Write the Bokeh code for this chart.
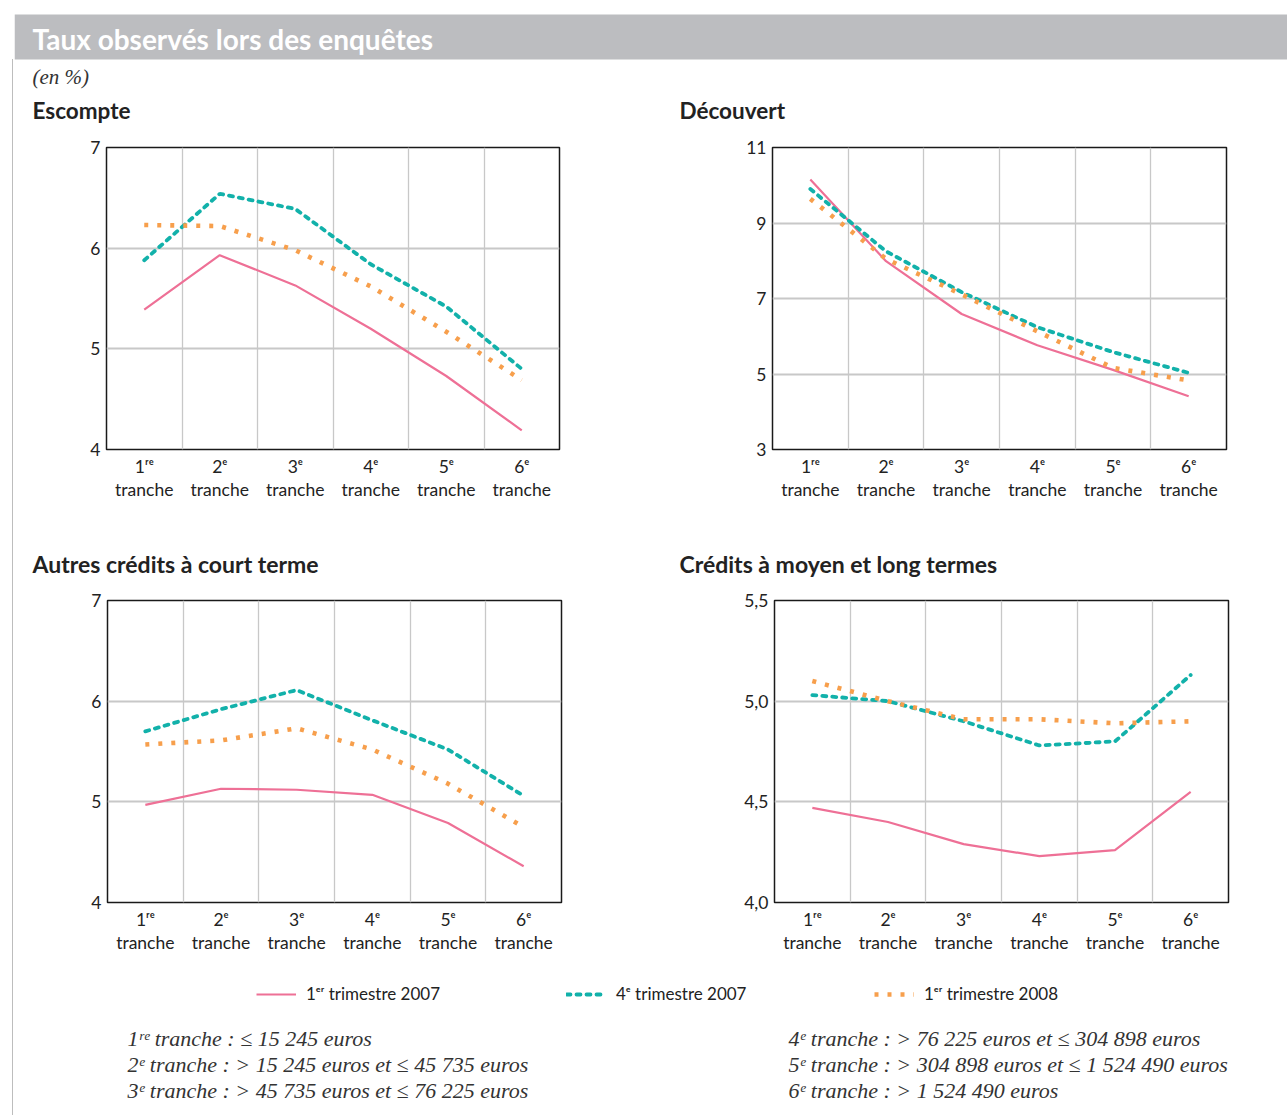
from bokeh.plotting import figure
from bokeh.models import Range1d, FixedTicker, Legend, LegendItem, Div
from bokeh.layouts import column, row
from bokeh.core.properties import value
from bokeh.embed import file_html
from bokeh.resources import INLINE

# ---------------- data ----------------
categories = ["1ʳᵉ\ntranche", "2ᵉ\ntranche", "3ᵉ\ntranche",
              "4ᵉ\ntranche", "5ᵉ\ntranche", "6ᵉ\ntranche"]
series_names = ["1ᵉʳ trimestre 2007", "4ᵉ trimestre 2007", "1ᵉʳ trimestre 2008"]

escompte_t1_2007 = [5.39, 5.93, 5.63, 5.20, 4.73, 4.19]
escompte_t4_2007 = [5.88, 6.54, 6.39, 5.84, 5.42, 4.80]
escompte_t1_2008 = [6.23, 6.22, 5.98, 5.62, 5.17, 4.69]

decouvert_t1_2007 = [10.15, 7.99, 6.59, 5.76, 5.11, 4.41]
decouvert_t4_2007 = [9.90, 8.25, 7.17, 6.24, 5.58, 5.03]
decouvert_t1_2008 = [9.64, 8.05, 7.11, 6.13, 5.16, 4.83]

autres_t1_2007 = [4.97, 5.13, 5.12, 5.07, 4.79, 4.36]
autres_t4_2007 = [5.70, 5.92, 6.11, 5.81, 5.52, 5.06]
autres_t1_2008 = [5.57, 5.61, 5.73, 5.52, 5.18, 4.75]

mlt_t1_2007 = [4.47, 4.40, 4.29, 4.23, 4.26, 4.55]
mlt_t4_2007 = [5.03, 5.00, 4.90, 4.78, 4.80, 5.13]
mlt_t1_2008 = [5.10, 5.00, 4.91, 4.91, 4.89, 4.90]

escompte_yticks = [4, 5, 6, 7]
escompte_ylabels = ["4", "5", "6", "7"]
decouvert_yticks = [3, 5, 7, 9, 11]
decouvert_ylabels = ["3", "5", "7", "9", "11"]
autres_yticks = [4, 5, 6, 7]
autres_ylabels = ["4", "5", "6", "7"]
mlt_yticks = [4.0, 4.5, 5.0, 5.5]
mlt_ylabels = ["4,0", "4,5", "5,0", "5,5"]

main_title = "Taux observés lors des enquêtes"
unit_note = "(en %)"
panel_titles = ["Escompte", "Découvert", "Autres crédits à court terme",
                "Crédits à moyen et long termes"]
notes_left = ["1ʳᵉ tranche : ≤ 15 245 euros",
              "2ᵉ tranche :  >  15 245 euros et ≤ 45 735 euros",
              "3ᵉ tranche :  >  45 735 euros et ≤ 76 225 euros"]
notes_right = ["4ᵉ tranche :  >  76 225 euros et ≤ 304 898 euros",
               "5ᵉ tranche :  >  304 898 euros et ≤ 1 524 490 euros",
               "6ᵉ tranche :  >  1 524 490 euros"]

# ---------------- styles ----------------
COLORS = ["#ee7096", "#12b1aa", "#f79f4c"]
WIDTHS = [2.2, 3.8, 4.6]
DASHES = ["solid", "4 6", "4 9"]
CAPS = ["butt", "round", "butt"]
SANS = "Lato"
SERIF = "Liberation Serif"
GRID = "#c8c8c8"
LEFT = 14
TOTAL_W = 1287 - LEFT


def canvas(w, h):
    p = figure(width=w, height=h, x_range=Range1d(0, w), y_range=Range1d(h, 0),
               x_axis_type=None, y_axis_type=None, min_border=0,
               toolbar_location=None, output_backend="svg")
    p.outline_line_color = None
    p.background_fill_color = "white"
    p.border_fill_color = "white"
    p.grid.visible = False
    return p


def panel(ys, yr, yticks, ylabels, w, h, bl, br, bt, bb):
    p = figure(width=w, height=h, x_range=Range1d(0, 6), y_range=Range1d(*yr),
               min_border_left=bl, min_border_right=br, min_border_top=bt,
               min_border_bottom=bb, toolbar_location=None, output_backend="svg")
    p.background_fill_color = "white"
    p.border_fill_color = "white"
    p.outline_line_color = "#1a1a1a"
    p.outline_line_width = 1.5
    x_pos = [i + 0.5 for i in range(len(categories))]
    for vals, col, lw, dash, cap in zip(ys, COLORS, WIDTHS, DASHES, CAPS):
        p.line(x_pos, vals, line_color=col, line_width=lw, line_dash=dash,
               line_cap=cap)

    p.xaxis.ticker = FixedTicker(ticks=x_pos)
    p.xaxis.major_label_overrides = {x: c for x, c in zip(x_pos, categories)}
    p.yaxis.ticker = FixedTicker(ticks=yticks)
    p.yaxis.major_label_overrides = {t: l for t, l in zip(yticks, ylabels)}
    for ax in (p.xaxis, p.yaxis):
        ax.axis_line_color = None
        ax.major_tick_line_color = None
        ax.minor_tick_line_color = None
        ax.major_label_text_font = SANS
        ax.major_label_text_font_size = "17.5px"
        ax.major_label_text_color = "#222222"
    p.xaxis.major_label_text_line_height = 1.1
    p.xaxis.major_label_standoff = 0
    p.yaxis.major_label_standoff = 0

    p.xgrid.ticker = FixedTicker(ticks=[1, 2, 3, 4, 5])
    p.xgrid.grid_line_color = GRID
    p.xgrid.grid_line_width = 1.3
    p.ygrid.ticker = FixedTicker(ticks=yticks[1:-1])
    p.ygrid.grid_line_color = GRID
    p.ygrid.grid_line_width = 2
    return p


# ---------------- header ----------------
top = canvas(TOTAL_W, 128)
top.quad(left=[0], right=[TOTAL_W], top=[14], bottom=[59],
         fill_color="#bcbdc0", line_color=None)
top.text(x=[18], y=[38], text=[main_title], text_font=value(SANS),
         text_font_style="bold", text_font_size="28px", text_color="white",
         text_baseline="middle", text_align="left")
top.text(x=[18], y=[76], text=[unit_note], text_font=value(SERIF),
         text_font_style="italic", text_font_size="21px", text_color="#333333",
         text_baseline="middle", text_align="left")
top.text(x=[18, 665], y=[110, 110], text=panel_titles[:2], text_font=value(SANS),
         text_font_style="bold", text_font_size="22.5px", text_color="#222222",
         text_baseline="middle", text_align="left")

# ---------------- row 1 ----------------
H1 = 392
p1 = panel([escompte_t1_2007, escompte_t4_2007, escompte_t1_2008], (4, 7),
           escompte_yticks, escompte_ylabels, 646, H1, 92, 101, 19, 71)
p2 = panel([decouvert_t1_2007, decouvert_t4_2007, decouvert_t1_2008], (3, 11),
           decouvert_yticks, decouvert_ylabels, 627, H1, 112, 61, 19, 71)

# ---------------- middle ----------------
mid = canvas(TOTAL_W, 62)
mid.text(x=[18, 665], y=[43, 43], text=panel_titles[2:], text_font=value(SANS),
         text_font_style="bold", text_font_size="23px", text_color="#222222",
         text_baseline="middle", text_align="left")

# ---------------- row 2 ----------------
H2 = 383
p3 = panel([autres_t1_2007, autres_t4_2007, autres_t1_2008], (4, 7),
           autres_yticks, autres_ylabels, 646, H2, 93, 99, 18, 63)
p4 = panel([mlt_t1_2007, mlt_t4_2007, mlt_t1_2008], (4.0, 5.5),
           mlt_yticks, mlt_ylabels, 627, H2, 114, 59, 18, 63)

# ---------------- bottom: legend + notes ----------------
BH = 150
bottom = canvas(TOTAL_W, BH)
legend_x = [242, 552, 860]
for name, col, lw, dash, cap, lx in zip(series_names, COLORS, WIDTHS, DASHES,
                                        CAPS, legend_x):
    r = bottom.line(x=[-500, -400], y=[-500, -500], line_color=col,
                    line_width=lw, line_dash=dash, line_cap=cap)
    lg = Legend(items=[LegendItem(label=name, renderers=[r])], location=(lx, 111),
                orientation="horizontal", glyph_width=40, glyph_height=20,
                label_standoff=10, padding=0, margin=0, spacing=0,
                border_line_color=None, background_fill_alpha=0,
                label_text_font=SANS, label_text_font_size="17px",
                label_text_color="#222222")
    bottom.add_layout(lg, "center")

bottom.text(x=[113] * 3, y=[73, 99, 125], text=notes_left, text_font=value(SERIF),
            text_font_style="italic", text_font_size="22px", text_color="#333333",
            text_baseline="middle", text_align="left")
bottom.text(x=[774] * 3, y=[73, 99, 125], text=notes_right, text_font=value(SERIF),
            text_font_style="italic", text_font_size="22px", text_color="#333333",
            text_baseline="middle", text_align="left")

# left rule of the frame
rule = Div(text='<div style="width:1px;height:1056px;margin-top:59px;'
                'margin-left:12px;background:#bdbdbd"></div>',
           width=LEFT, height=1105, margin=(0, 0, 0, 0))

content = column(top, row(p1, p2), mid, row(p3, p4), bottom)
layout = row(rule, content)

open("out.html", "w").write(file_html(layout, INLINE))
